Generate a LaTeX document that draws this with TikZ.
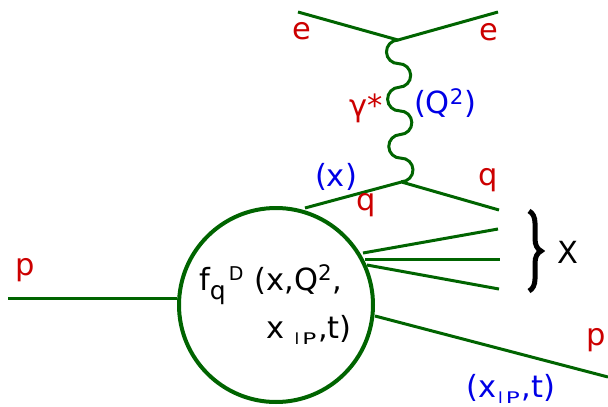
\documentclass[tikz,border=0pt]{standalone}
\usepackage{fontspec}
\setmainfont{DejaVu Sans}
\usetikzlibrary{decorations.pathreplacing}
\definecolor{lgreen}{RGB}{0,100,0}
\definecolor{lred}{RGB}{204,0,0}
\definecolor{lblue}{RGB}{0,0,230}
\tikzset{
  line/.style={draw=lgreen,line width=3pt},
  photon/.style={draw=lgreen,line width=3pt},
  redlab/.style={text=lred,font=\fontsize{30.5}{32}\selectfont,inner sep=0pt},
  bluelab/.style={text=lblue,font=\fontsize{30.5}{32}\selectfont,inner sep=0pt},
  blacklab/.style={text=black,font=\fontsize{30.5}{32}\selectfont,inner sep=0pt},
}
\newcommand{\fsz}[2]{{\fontsize{#1}{#1}\selectfont #2}}
\newcommand{\pomsub}{\fsz{16}{I\kern3pt\scalebox{1.45}[1]{P}}}
\begin{document}
\begin{tikzpicture}[x=1pt,y=-1pt]
\useasboundingbox (0,0) rectangle (608,407);
% blob
\node[circle,draw=lgreen,line width=4pt,minimum size=194pt,inner sep=0pt] (blob) at (276,305) {};
% electron
\coordinate (ev) at (398,40);
\coordinate (ein) at (298,12);
\coordinate (eout) at (498,12);
\draw[line] (ein) -- (ev) -- (eout);
% quark
\coordinate (qv) at (401.5,182);
\coordinate (qin) at (305,208);
\coordinate (qout) at (499,210);
\draw[line] (qin) -- (qv) -- (qout);
% photon: chain of half circles
\draw[photon,rotate around={1.4:(ev)}] (ev)
  arc[start angle=-90,end angle=-270,radius=11.82]
  arc[start angle=-90,end angle=90,radius=11.82]
  arc[start angle=-90,end angle=-270,radius=11.82]
  arc[start angle=-90,end angle=90,radius=11.82]
  arc[start angle=-90,end angle=-270,radius=11.82]
  arc[start angle=-90,end angle=90,radius=11.82];
% proton in
\coordinate (pin) at (8,298);
\draw[line] (pin) -- (blob.west |- pin);
% X lines
\coordinate (xs1) at (363,253);
\coordinate (xs2) at (365,259);
\coordinate (xs3) at (367,265);
\coordinate (x1) at (498,229);
\coordinate (x2) at (500,259);
\coordinate (x3) at (499,289);
\draw[line] (xs1) -- (x1);
\draw[line] (xs2) -- (x2);
\draw[line] (xs3) -- (x3);
% brace
\coordinate (bt) at (529,211);
\coordinate (bb) at (529,291);
\draw[line width=5pt,decorate,decoration={brace,amplitude=12pt}] (bt) -- (bb);
% proton out
\coordinate (pos) at (375,316);
\coordinate (pout) at (608,377);
\draw[line] (pos) -- (pout);
% labels
\node[redlab] (le1) at (302,31) {e};
\node[redlab] (le2) at (489,32) {e};
\node[redlab] (lg) at (366,108) {γ*};
\node[bluelab] (lq2) at (445,103) {(Q\textsuperscript{2})};
\node[bluelab] (lx) at (336,177) {(x)};
\node[redlab] (lq1) at (366,205) {q};
\node[redlab] (lq3) at (488,180) {q};
\node[blacklab] (lX) at (568,252) {X};
\node[redlab] (lp1) at (25,270) {p};
\node[redlab] (lp2) at (596,340) {p};
\node[bluelab,anchor=base] (lxt) at (511,397) {(x\kern1.5pt\raisebox{-6pt}{\pomsub}\kern2pt,t)};
\node[blacklab,anchor=base west] (f1) at (199,290) {f\raisebox{-9pt}{\fsz{25}{q}}\kern3pt\raisebox{10pt}{\fsz{19}{D}}\kern11pt(x,Q\textsuperscript{2},};
\node[blacklab,anchor=base east] (f2) at (352,338) {x\kern10pt\raisebox{-6pt}{\pomsub}\kern2pt,t)};
\end{tikzpicture}
\end{document}
